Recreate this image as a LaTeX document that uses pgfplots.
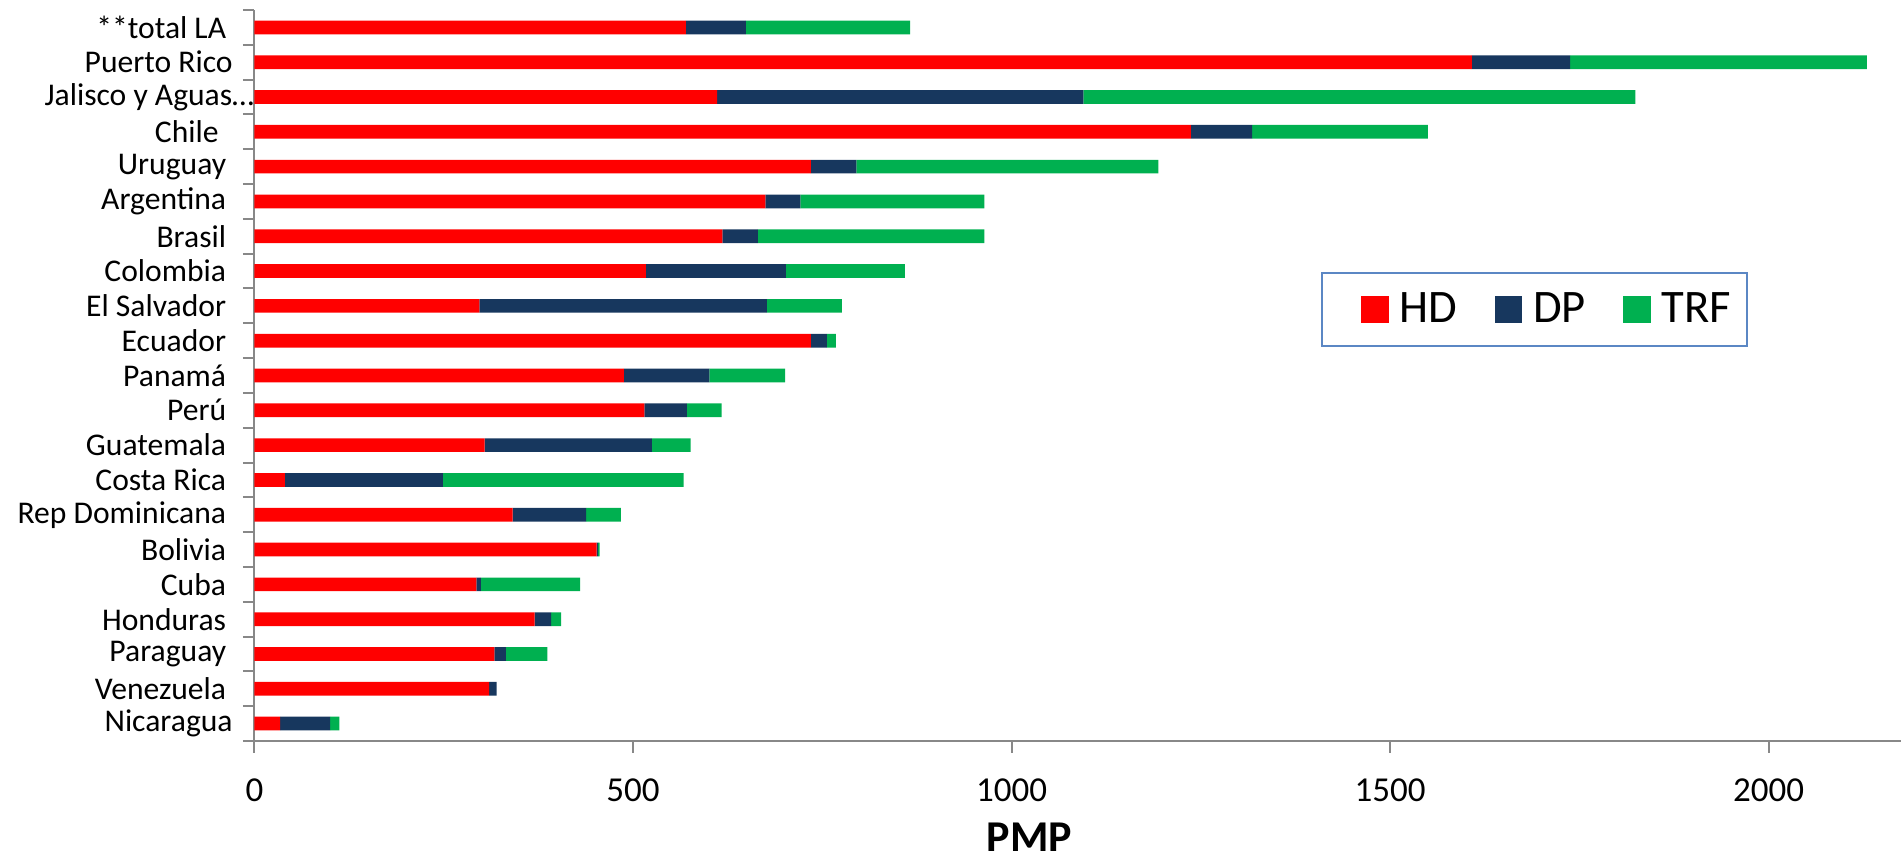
\documentclass[border=0pt]{standalone}
\usepackage{fontspec}
\setmainfont{Carlito}
\usepackage{pgfplots}
\usepackage{pgfplotstable}
\pgfplotsset{compat=1.18}
\definecolor{hd}{HTML}{FF0000}
\definecolor{dp}{HTML}{17375E}
\definecolor{trf}{HTML}{00B050}
\definecolor{axgray}{HTML}{888888}
\definecolor{legblue}{HTML}{5B87C4}

\pgfplotstableread{
idx HD DP TRF
20 570 79 217
19 1608 130 392
18 611 484 729
17 1237 81 232
16 735 60 399
15 675 46 243
14 618 47 299
13 517 185 157
12 297 380 99
11 735 21 12
10 488 113 100
9 515 56 46
8 304 221 51
7 40 209 318
6 341 97 46
5 452 2 2
4 293 6 131
3 370 22 13
2 317 15 55
1 310 10 0
0 34 66 12
}\data

\begin{document}
\begin{tikzpicture}
\useasboundingbox (-127.25pt,-60.5pt) rectangle (823.25pt,370.5pt);
\begin{axis}[
  scale only axis, width=823.25pt, height=365.5pt,
  xbar stacked, bar width=6.85pt,
  xmin=0, xmax=2175, ymin=-0.5, ymax=20.5,
  axis x line=bottom, axis y line=left,
  axis line style={draw=axgray, line width=1pt, -},
  tick align=outside, major tick length=5.8pt,
  xtick={0,500,1000,1500,2000},
  xtick style={draw=axgray, line width=1pt},
  /pgf/number format/assume math mode=true,
  /pgf/number format/1000 sep={},
  xticklabel style={font=\fontsize{17.5}{20}\selectfont, anchor=base, inner sep=0pt, yshift=-24.5pt},
  ytick={0,...,20},
  yticklabels={{Nicaragua\kern-3.25pt}, Venezuela, Paraguay, Honduras, Cuba, Bolivia, Rep Dominicana, Costa Rica, Guatemala, Perú, Panamá, Ecuador, El Salvador, Colombia, Brasil, Argentina, Uruguay, {Chile\kern3.75pt}, {Jalisco y Aguas\ldots\kern-14pt}, {Puerto Rico\kern-3.25pt}, **total LA},
  ytick style={draw=none},
  yticklabel style={font=\fontsize{15.8}{18}\selectfont, anchor=east, inner sep=0pt, xshift=-8.2pt},
  extra y ticks={-0.5,0.5,1.5,2.5,3.5,4.5,5.5,6.5,7.5,8.5,9.5,10.5,11.5,12.5,13.5,14.5,15.5,16.5,17.5,18.5,19.5,20.5},
  extra y tick labels={},
  extra y tick style={ytick style={draw=axgray, line width=1pt}},
  xlabel={PMP},
  xlabel style={font=\fontsize{22}{24}\selectfont\bfseries, at={(axis description cs:0.4707,-0.151)}, anchor=base, inner sep=0pt},
  legend columns=3,
  legend style={at={(rel axis cs:0.6476,0.6416)}, anchor=north west,
    draw=legblue, line width=1pt, fill=white,
    font=\fontsize{23.3}{28}\selectfont,
    inner xsep=6pt, inner ysep=8pt,
    /tikz/every odd column/.append style={column sep=3.5pt},
    /tikz/every even column/.append style={column sep=3pt}},
  legend image code/.code={\path (0pt,0pt); \fill[#1] (13.7pt,-6.85pt) rectangle (27.4pt,6.85pt);},
]
\addplot[fill=hd, draw=none] table[x=HD, y=idx] {\data};
\addplot[fill=dp, draw=none] table[x=DP, y=idx] {\data};
\addplot[fill=trf, draw=none] table[x=TRF, y=idx] {\data};
\legend{HD, DP, TRF}
\end{axis}
\end{tikzpicture}
\end{document}
